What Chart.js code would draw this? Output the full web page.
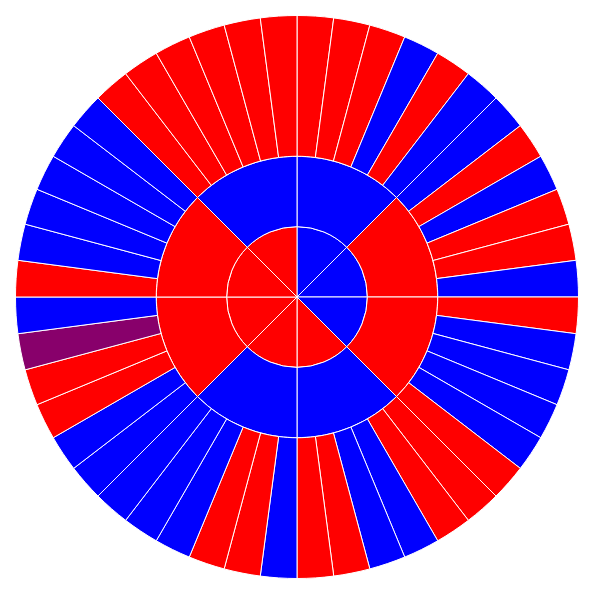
<!DOCTYPE html>
<html>
<head>
<meta charset="utf-8">
<script src="https://cdn.jsdelivr.net/npm/chart.js@4/dist/chart.umd.min.js"></script>
<style>
  html, body { margin: 0; padding: 0; background: #fff; }
  #wrap { width: 594px; height: 594px; position: relative; }
</style>
</head>
<body>
<div id="wrap"><canvas id="c"></canvas></div>
<script>
// Slices listed clockwise from 12 o'clock; every slice has an equal share.
const innerColors = ['blue','blue','blue','red','red','red','red','red'];
const middleColors = ['blue','red','red','blue','blue','red','red','blue'];
const outerColors = [
  // 0-90
  'red','red','red','blue','red','blue',
  'blue','red','blue','red','red','blue',
  // 90-180
  'red','blue','blue','blue','blue','red',
  'red','red','blue','blue','red','red',
  // 180-270
  'blue','red','red','blue','blue','blue',
  'blue','blue','red','red','purple','blue',
  // 270-360
  'red','blue','blue','blue','blue','blue',
  'red','red','red','red','red','red'
];
const innerValues = innerColors.map(() => 1);
const middleValues = middleColors.map(() => 1);
const outerValues = outerColors.map(() => 1);

const palette = { red: '#ff0000', blue: '#0000ff', purple: '#88006b' };

new Chart(document.getElementById('c'), {
  type: 'doughnut',
  data: {
    labels: outerValues.map((_, i) => 'S' + (i + 1)),
    datasets: [
      { data: outerValues, backgroundColor: outerColors.map(c => palette[c]), weight: 2 },
      { data: middleValues, backgroundColor: middleColors.map(c => palette[c]), weight: 1 },
      { data: innerValues, backgroundColor: innerColors.map(c => palette[c]), weight: 1 }
    ]
  },
  options: {
    responsive: true,
    maintainAspectRatio: false,
    animation: false,
    cutout: 0,
    radius: 281.5,
    borderColor: '#ffffff',
    borderWidth: 1,
    hoverOffset: 0,
    plugins: { legend: { display: false }, tooltip: { enabled: false } }
  }
});
</script>
</body>
</html>
